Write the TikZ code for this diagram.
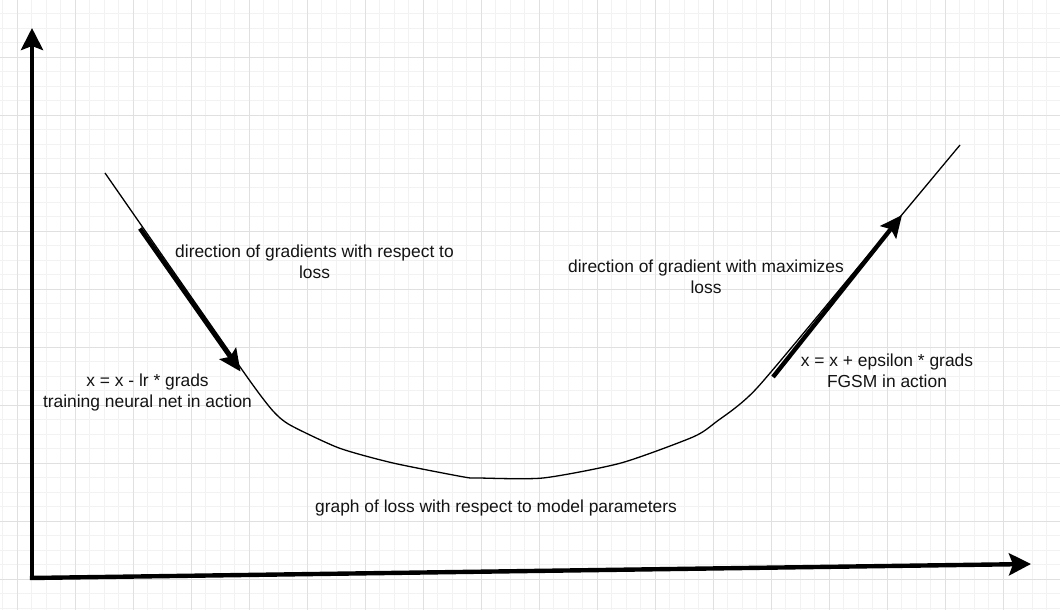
\documentclass[tikz,border=0pt]{standalone}
\usepackage{fontspec}
\setmainfont{Liberation Sans}
\usetikzlibrary{arrows.meta}
\tikzset{
  minorgrid/.style={draw=black!5, line width=0.9pt},
  majorgrid/.style={draw=black!12, line width=1pt},
  axis/.style={line width=4.4pt, -{Stealth[length=22pt,width=22pt,inset=4pt]}},
  gradarrow/.style={line width=4.4pt, -{Stealth[length=22pt,width=20pt,inset=4pt]}},
  curve/.style={line width=1.3pt, line join=round},
  lbl/.style={align=center, inner sep=0pt, font=\fontsize{17.4}{20.9}\selectfont, text=black!92}
}
\begin{document}
\begin{tikzpicture}[x=1pt,y=-1pt]
\useasboundingbox (0,0) rectangle (1060,610);
\fill[white] (0,0) rectangle (1060,610);
% grid
\foreach \i in {0,...,72} {\draw[minorgrid] ({2.8+14.5*\i},0) -- ({2.8+14.5*\i},610);}
\foreach \i in {0,...,42} {\draw[minorgrid] (0,{-0.7+14.5*\i}) -- (1060,{-0.7+14.5*\i});}
\foreach \i in {0,...,18} {\draw[majorgrid] ({17.3+58*\i},0) -- ({17.3+58*\i},610);}
\foreach \i in {1,...,10} {\draw[majorgrid] (0,{-0.7+58*\i}) -- (1060,{-0.7+58*\i});}
% axes
\coordinate (O) at (32,578);
\coordinate (ytip) at (32,28);
\coordinate (xtip) at (1031,564);
\draw[axis] (O) -- (ytip);
\draw[axis] ([xshift=-2.2pt]O) -- (xtip);
% loss curve
\draw[curve] plot[smooth, tension=0.4] coordinates {(105,173) (178,278) (250,381) (273,411) (290,425) (339,448) (393,463) (464,477) (479,478) (543,478) (621,463) (693,437) (716,422) (757,388) (860,265) (960,145)};
% gradient arrows
\coordinate (g1s) at (140,228.5);
\coordinate (g1e) at (240.5,371.5);
\coordinate (g2s) at (773,377);
\coordinate (g2e) at (902,215);
\draw[gradarrow] (g1s) -- (g1e);
\draw[gradarrow] (g2s) -- (g2e);
% labels
\node[lbl] (tdesc) at (314.5,262) {direction of gradients with respect to\\loss};
\node[lbl] (ttrain) at (147.5,392.5) {x = x - lr * grads\\training neural net in action};
\node[lbl] (tmax) at (706,276.5) {direction of gradient with maximizes\\loss};
\node[lbl] (tfgsm) at (887,370.5) {x = x + epsilon * grads\\FGSM in action};
\node[lbl] (tgraph) at (496,508) {graph of loss with respect to model parameters};
\end{tikzpicture}
\end{document}
